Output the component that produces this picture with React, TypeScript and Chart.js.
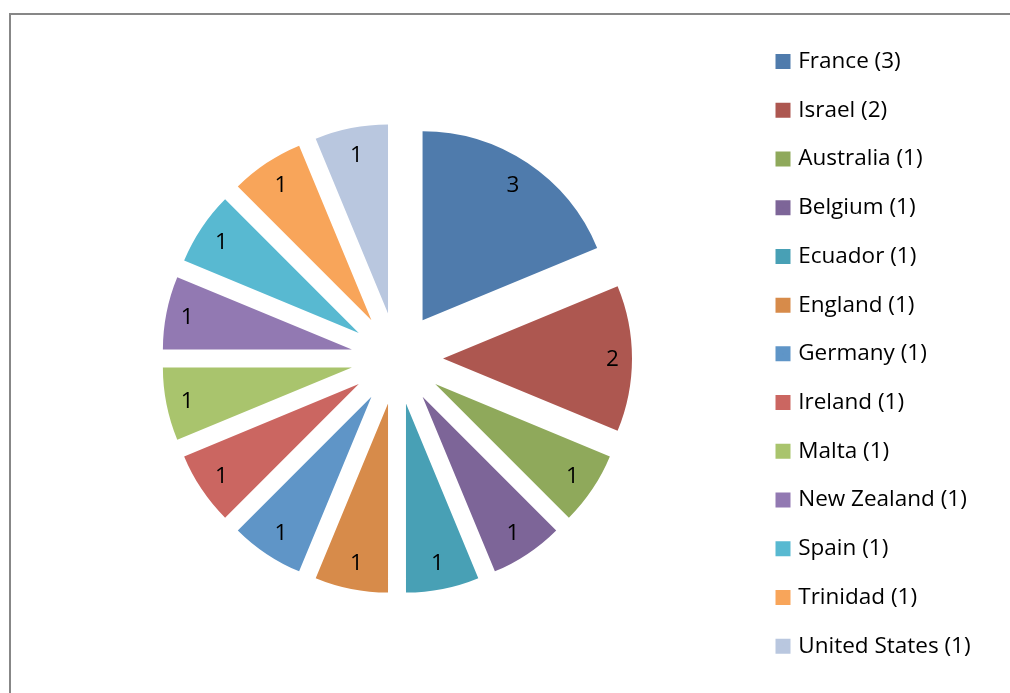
import React, { useEffect, useRef } from "react";
import { Chart, registerables } from "chart.js";

Chart.register(...registerables);

const categories = [
  "France", "Israel", "Australia", "Belgium", "Ecuador", "England", "Germany",
  "Ireland", "Malta", "New Zealand", "Spain", "Trinidad", "United States",
];
const counts = [3, 2, 1, 1, 1, 1, 1, 1, 1, 1, 1, 1, 1];
const sliceColors = [
  "#4F7BAC", "#AD5750", "#8FA95B", "#7D6598", "#48A0B5", "#D78B4A", "#5F95C7",
  "#CB6661", "#A9C46D", "#9279B2", "#58B9D1", "#F8A55A", "#B9C7DF",
];

const FONT_FAMILY = "'Open Sans', sans-serif";
const FONT_SIZE = 22.5;
const EXPLODE = 46; // px each slice is pulled out along its bisector
const RADIUS = 189;
const ROW = 48.73; // legend row pitch
const LEGEND_X = 779; // where the legend box column starts
const PIE_CX = 397;

// pull every slice out by the same distance (exploded pie)
const explode = {
  id: "explode",
  afterDatasetUpdate(chart: any, args: any) {
    args.meta.data.forEach((arc: any) => {
      const mid = (arc.startAngle + arc.endAngle) / 2;
      arc.x += Math.cos(mid) * EXPLODE;
      arc.y += Math.sin(mid) * EXPLODE;
    });
  },
};

const valueLabels = {
  id: "valueLabels",
  afterDatasetsDraw(chart: any) {
    const meta = chart.getDatasetMeta(0);
    const ctx = chart.ctx;
    ctx.save();
    ctx.font = `${FONT_SIZE}px ${FONT_FAMILY}`;
    ctx.fillStyle = "#000";
    ctx.textAlign = "center";
    ctx.textBaseline = "middle";
    meta.data.forEach((arc: any, i: number) => {
      const mid = (arc.startAngle + arc.endAngle) / 2;
      const margin = 19.5 + 8 * Math.abs(Math.sin(mid));
      const d = arc.outerRadius - margin;
      ctx.fillText(String(counts[i]), arc.x + Math.cos(mid) * d, arc.y + Math.sin(mid) * d + 1);
    });
    ctx.restore();
  },
};

export default function App() {
  const ref = useRef<HTMLCanvasElement | null>(null);
  useEffect(() => {
    if (!ref.current) return;
    const canvas = ref.current;
    // measure the widest legend entry so the legend column lands where it should
    const mctx = canvas.getContext("2d")!;
    mctx.font = `${FONT_SIZE}px ${FONT_FAMILY}`;
    const widest = Math.max(...categories.map((n, i) => mctx.measureText(`${n} (${counts[i]})`).width));
    const pad = ROW - FONT_SIZE;
    const legendWidth = pad + 8 + FONT_SIZE / 2 + widest + 10;
    const legendLeft = LEGEND_X - pad;
    const padRight = Math.max(0, 1010 - legendWidth - legendLeft);
    const padLeft = 2 * PIE_CX - legendLeft;

    const chart = new Chart(canvas, {
      type: "pie",
      data: {
        labels: categories,
        datasets: [
          {
            data: counts,
            backgroundColor: sliceColors,
            borderWidth: 0,
            hoverOffset: 0,
          },
        ],
      },
      options: {
        responsive: false,
        animation: false,
        radius: RADIUS,
        layout: { padding: { left: padLeft, right: padRight, top: 24, bottom: 0 } },
        plugins: {
          tooltip: { enabled: false },
          legend: {
            position: "right",
            align: "start",
            labels: {
              boxWidth: 8,
              boxHeight: 8,
              padding: pad,
              color: "#000",
              font: { family: FONT_FAMILY, size: FONT_SIZE },
              generateLabels: () =>
                categories.map((name, i) => ({
                  text: `${name} (${counts[i]})`,
                  fillStyle: sliceColors[i],
                  strokeStyle: sliceColors[i],
                  lineWidth: 7,
                  fontColor: "#000",
                  hidden: false,
                  index: i,
                })),
            },
          },
        },
      } as any,
      plugins: [explode, valueLabels],
    });
    return () => chart.destroy();
  }, []);

  return (
    <div style={{ position: "fixed", left: 0, top: 0, width: 1010, height: 693, overflow: "hidden", background: "#fff" }}>
      <div
        style={{
          position: "absolute",
          left: 9,
          top: 13,
          width: 1200,
          height: 900,
          borderLeft: "2px solid #878787",
          borderTop: "2px solid #878787",
        }}
      />
      <canvas ref={ref} width={1010} height={693} style={{ position: "absolute", left: 0, top: 0 }} />
    </div>
  );
}
